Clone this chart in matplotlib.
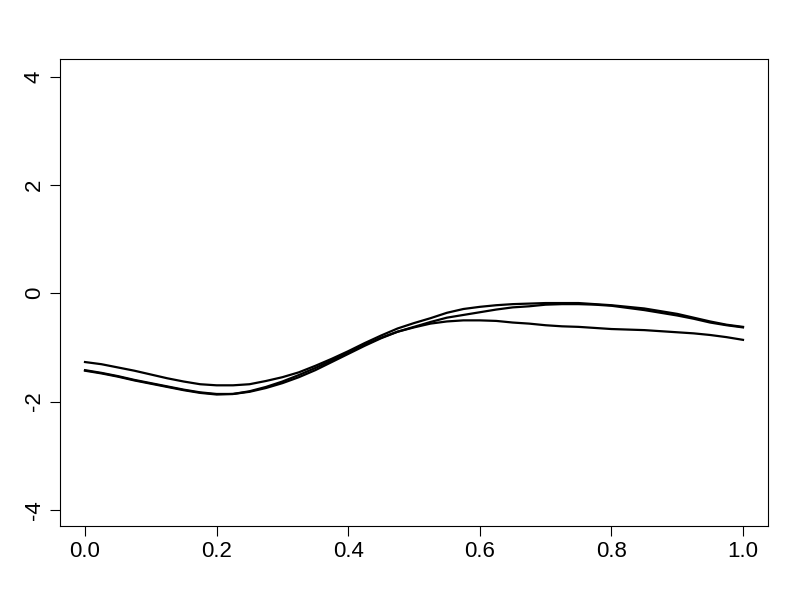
import numpy as np
import matplotlib
matplotlib.use("Agg")
import matplotlib.pyplot as plt

plt.rcParams["font.family"] = ["Liberation Sans", "DejaVu Sans"]

t = np.linspace(0, 1, 41)

curve_a = [-1.27, -1.31, -1.37, -1.43, -1.50, -1.57, -1.63, -1.68, -1.70, -1.70,
           -1.68, -1.62, -1.55, -1.46, -1.34, -1.21, -1.07, -0.92, -0.78, -0.65,
           -0.55, -0.46, -0.36, -0.29, -0.25, -0.22, -0.20, -0.19, -0.18, -0.18,
           -0.18, -0.20, -0.22, -0.25, -0.28, -0.33, -0.38, -0.45, -0.52, -0.58,
           -0.62]
curve_b = [-1.42, -1.47, -1.53, -1.60, -1.66, -1.72, -1.78, -1.83, -1.86, -1.86,
           -1.82, -1.75, -1.66, -1.55, -1.42, -1.27, -1.12, -0.97, -0.83, -0.71,
           -0.62, -0.53, -0.45, -0.40, -0.35, -0.30, -0.26, -0.24, -0.21, -0.20,
           -0.20, -0.21, -0.23, -0.27, -0.31, -0.36, -0.41, -0.47, -0.54, -0.59,
           -0.63]
curve_c = [-1.43, -1.48, -1.54, -1.61, -1.67, -1.73, -1.79, -1.84, -1.87, -1.86,
           -1.81, -1.73, -1.63, -1.51, -1.38, -1.24, -1.10, -0.95, -0.82, -0.71,
           -0.63, -0.56, -0.52, -0.50, -0.50, -0.51, -0.54, -0.56, -0.59, -0.61,
           -0.62, -0.64, -0.66, -0.67, -0.68, -0.70, -0.72, -0.74, -0.77, -0.81,
           -0.86]

xticks = [0.0, 0.2, 0.4, 0.6, 0.8, 1.0]
yticks = [-4, -2, 0, 2, 4]

fig = plt.figure(figsize=(8, 6), dpi=100)
ax = fig.add_axes([0.075, 0.1233, 0.885, 0.7784])

for c in (curve_a, curve_b, curve_c):
    ax.plot(t, c, color="black", lw=1.6)

ax.set_xlim(-0.038, 1.038)
ax.set_ylim(-4.30, 4.33)
ax.set_xticks(xticks)
ax.set_xticklabels(["%.1f" % v for v in xticks])
ax.set_yticks(yticks)
ax.set_yticklabels([str(v) for v in yticks], rotation=90, va="center")
ax.tick_params(labelsize=16, length=7, width=0.8, direction="out", pad=4)
for s in ax.spines.values():
    s.set_linewidth(0.8)

fig.savefig("out.png", dpi=100)
